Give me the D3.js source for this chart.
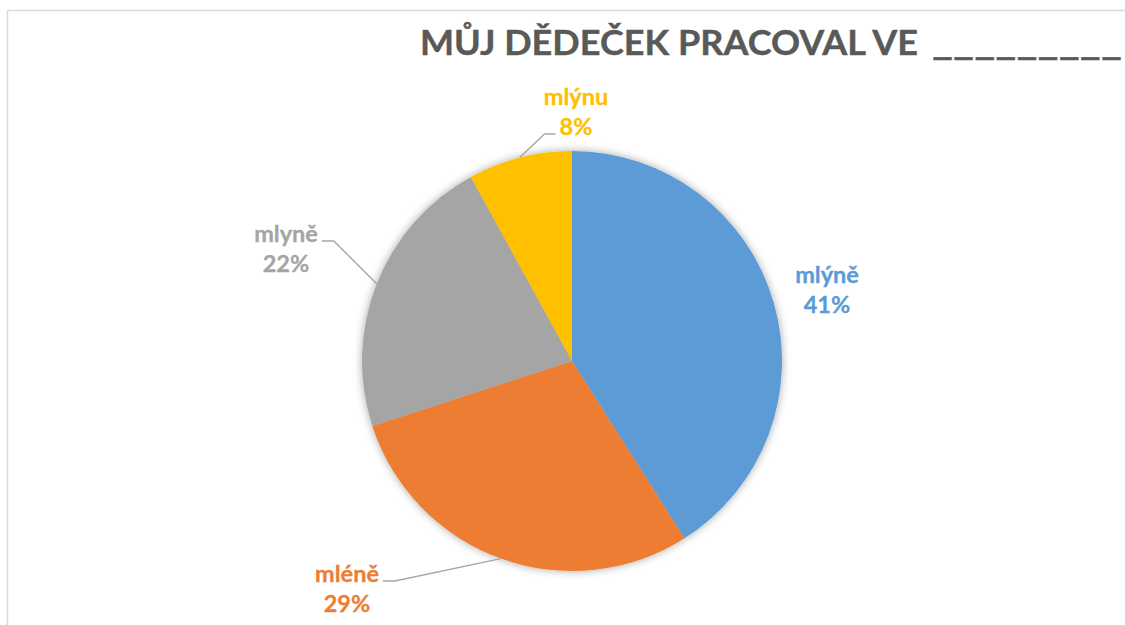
<!DOCTYPE html>
<html>
<head>
<meta charset="utf-8">
<script src="https://cdn.jsdelivr.net/npm/d3@7"></script>
<style>
  html, body { margin: 0; padding: 0; background: #fff; overflow: hidden; }
  text { font-family: Lato, "Open Sans", sans-serif; font-weight: bold; }
</style>
</head>
<body>
<script>
// data
const categories = ["mlýně", "mléně", "mlyně", "mlýnu"];
const values = [41, 29, 22, 8];
const colors = ["#5B9BD5", "#ED7D31", "#A5A5A5", "#FFC000"];
const titleWords = "MŮJ DĚDEČEK PRACOVAL VE";
const titleBlank = "_________";

// layout: label centre x / first baseline offsets from the pie centre,
// and which label line the leader attaches to (null = no leader)
const labelOffset = [[255, -78], [-225, 221], [-286, -119], [4, -256]];
const leaderLine = [null, 0, 0, 1];

const W = 1125, H = 625;
const cx = 572, cy = 361, R = 210;

const svg = d3.select("body").append("svg")
    .attr("width", W)
    .attr("height", H);

// chart area frame
svg.append("rect")
    .attr("x", 7.5).attr("y", 10.5)
    .attr("width", 1300).attr("height", 800)
    .attr("fill", "#fff")
    .attr("stroke", "#d9d9d9")
    .attr("stroke-width", 1.5);

const defs = svg.append("defs");
const f = defs.append("filter").attr("id", "shadow")
    .attr("x", "-20%").attr("y", "-20%").attr("width", "140%").attr("height", "140%");
f.append("feDropShadow")
    .attr("dx", 0).attr("dy", 0)
    .attr("stdDeviation", 4)
    .attr("flood-color", "#000")
    .attr("flood-opacity", 0.35);

// title
const title = svg.append("text")
    .attr("y", 55)
    .attr("fill", "#595959")
    .attr("font-size", 33.5)
    .attr("stroke", "#595959")
    .attr("stroke-width", 0.4);
title.append("tspan")
    .attr("x", 420)
    .attr("textLength", 498)
    .attr("lengthAdjust", "spacingAndGlyphs")
    .text(titleWords);
title.append("tspan")
    .attr("x", 932)
    .attr("textLength", 190)
    .attr("lengthAdjust", "spacingAndGlyphs")
    .text(titleBlank);

const pie = d3.pie().sort(null).value(d => d);
const arcs = pie(values);
const arc = d3.arc().innerRadius(0).outerRadius(R);

const g = svg.append("g").attr("transform", `translate(${cx},${cy})`);

g.append("g").attr("filter", "url(#shadow)")
  .selectAll("path")
  .data(arcs)
  .join("path")
    .attr("d", arc)
    .attr("fill", (d, i) => colors[i]);

const leaders = g.append("g");

// data labels
const total = d3.sum(values);
const edge = d3.arc().innerRadius(R).outerRadius(R);
arcs.forEach((d, i) => {
    const [lx, ly] = labelOffset[i];
    const lbl = g.append("text")
        .attr("text-anchor", "middle")
        .attr("fill", colors[i])
        .attr("font-size", 23.5)
        .attr("stroke", colors[i])
        .attr("stroke-width", 0.3);
    const lines = [categories[i], Math.round(values[i] / total * 100) + "%"];
    const spans = lines.map((s, k) =>
        lbl.append("tspan").attr("x", lx).attr("y", ly + k * 30).text(s));

    if (leaderLine[i] === null) return;
    const k = leaderLine[i];
    const bb = spans[k].node().getBBox();
    const [ex, ey] = edge.centroid(d);
    const left = ex < lx;
    const attachX = left ? bb.x - 4 : bb.x + bb.width + 4;
    const attachY = ly + k * 30 - 1;
    const elbowX = left ? attachX - 11 : attachX + 12;
    leaders.append("polyline")
        .attr("points", [[ex, ey], [elbowX, attachY], [attachX, attachY]].map(p => p.join(",")).join(" "))
        .attr("fill", "none")
        .attr("stroke", "#A6A6A6")
        .attr("stroke-width", 1.4);
});
</script>
</body>
</html>
